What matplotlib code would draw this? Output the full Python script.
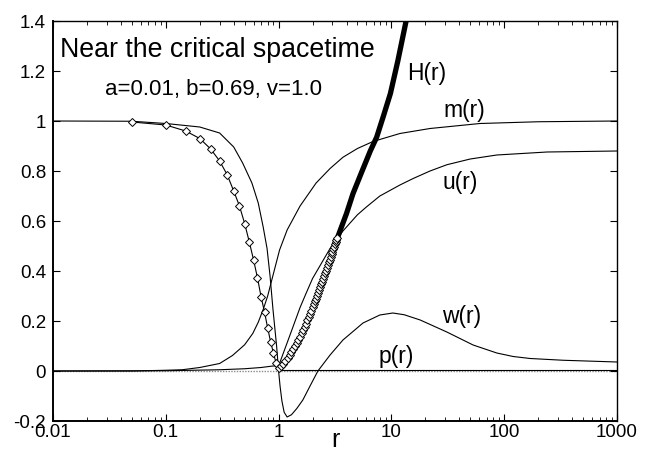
import matplotlib
matplotlib.use('Agg')
import matplotlib.pyplot as plt

plt.rcParams['font.family'] = ['Liberation Sans', 'DejaVu Sans']

# H(r): open-diamond data points (step 0.05), then thick line
h_r_left = [0.05, 0.10, 0.15, 0.20, 0.25, 0.30, 0.35, 0.40, 0.45, 0.50,
            0.55, 0.60, 0.65, 0.70, 0.75, 0.80, 0.85, 0.90, 0.95, 1.00]
h_left = [0.996, 0.984, 0.960, 0.930, 0.888, 0.840, 0.785, 0.720, 0.660, 0.590,
          0.516, 0.444, 0.372, 0.296, 0.236, 0.172, 0.116, 0.072, 0.032, 0.012]
h_r_right = [1.05, 1.10, 1.15, 1.20, 1.25, 1.30, 1.35, 1.40, 1.45, 1.50,
             1.55, 1.60, 1.65, 1.70, 1.75, 1.80, 1.85, 1.90, 1.95, 2.00,
             2.05, 2.10, 2.15, 2.20, 2.25, 2.30, 2.35, 2.40, 2.45, 2.50,
             2.55, 2.60, 2.65, 2.70, 2.75, 2.80, 2.85, 2.90, 2.95, 3.00,
             3.05, 3.10, 3.15, 3.20, 3.25, 3.30]
h_right = [0.020, 0.030, 0.041, 0.052, 0.063, 0.075, 0.087, 0.099, 0.112, 0.125,
           0.138, 0.151, 0.164, 0.177, 0.190, 0.203, 0.216, 0.229, 0.242, 0.255,
           0.267, 0.279, 0.290, 0.302, 0.313, 0.325, 0.336, 0.347, 0.358, 0.369,
           0.380, 0.391, 0.402, 0.413, 0.424, 0.435, 0.446, 0.456, 0.467, 0.477,
           0.487, 0.497, 0.507, 0.516, 0.525, 0.534]
h_r_thick = [3.0, 3.5, 4.0, 4.57, 5.5, 6.5, 7.4, 8.5, 9.8, 11.4, 13.5, 14.3]
h_thick = [0.477, 0.56, 0.63, 0.71, 0.80, 0.88, 0.935, 1.02, 1.11, 1.24, 1.40, 1.46]

w_r = [0.01, 0.05, 0.1, 0.2, 0.3, 0.4, 0.48, 0.58, 0.66, 0.73, 0.79, 0.84, 0.89,
       0.96, 1.0, 1.03, 1.07, 1.12, 1.19, 1.3, 1.45, 1.64, 1.9, 2.23, 2.86, 3.72,
       5.6, 7.9, 10.3, 13, 18, 31, 53, 86, 120, 170, 332, 1000]
w_vals = [1.0, 0.999, 0.99, 0.976, 0.952, 0.896, 0.832, 0.752, 0.672, 0.576, 0.49,
          0.380, 0.250, 0.100, 0.0, -0.06, -0.12, -0.165, -0.184, -0.175, -0.15,
          -0.116, -0.06, 0.0, 0.064, 0.124, 0.192, 0.224, 0.232, 0.225, 0.204,
          0.156, 0.104, 0.072, 0.058, 0.05, 0.043, 0.036]

m_r = [0.01, 0.05, 0.1, 0.14, 0.2, 0.3, 0.39, 0.5, 0.59, 0.66, 0.73, 0.8, 0.87,
       1.02, 1.19, 1.55, 2.15, 2.86, 3.72, 5.0, 6.87, 11.9, 22, 61, 200, 1000]
m_vals = [0.0, 0.0, 0.003, 0.005, 0.014, 0.03, 0.062, 0.105, 0.15, 0.195, 0.246,
          0.30, 0.364, 0.484, 0.564, 0.66, 0.752, 0.81, 0.855, 0.89, 0.918,
          0.95, 0.97, 0.99, 0.997, 1.0]

u_r = [0.01, 0.1, 0.3, 0.5, 0.7, 0.89, 1.0, 1.1, 1.2, 1.35, 1.55, 1.75, 2.0,
       2.5, 2.86, 3.72, 5.0, 6.0, 7.9, 11.9, 15.6, 22, 31, 50, 86, 240, 1000]
u_vals = [0.0, 0.001, 0.005, 0.009, 0.014, 0.02, 0.02, 0.071, 0.117, 0.18, 0.254,
          0.31, 0.37, 0.445, 0.49, 0.56, 0.625, 0.656, 0.70, 0.744, 0.77, 0.80,
          0.825, 0.848, 0.864, 0.876, 0.88]

p_r = [1.0, 10, 100, 1000]
p_vals = [0.006, 0.006, 0.006, 0.006]

fig = plt.figure(figsize=(6.59, 4.53), dpi=100)
ax = fig.add_axes([53 / 659, 32 / 453, 564 / 659, 400 / 453])

ax.axhline(0, color='0.55', linestyle=(0, (1, 1)), linewidth=1.0, zorder=1)

ax.plot(w_r, w_vals, color='black', linewidth=0.8)
ax.plot(m_r, m_vals, color='black', linewidth=0.8)
ax.plot(u_r, u_vals, color='black', linewidth=0.8)
ax.plot(p_r, p_vals, color='black', linewidth=0.8)
ax.plot(h_r_thick, h_thick, color='black', linewidth=3.8, solid_capstyle='butt')
ax.plot(h_r_left + h_r_right, h_left + h_right, color='black', linewidth=0.8,
        marker='D', markersize=3.6, markerfacecolor='white',
        markeredgecolor='black', markeredgewidth=0.7)

ax.set_xscale('log')
ax.set_xlim(0.01, 1000)
ax.set_ylim(-0.2, 1.4)
ax.set_xticks([0.01, 0.1, 1, 10, 100, 1000])
ax.set_xticklabels(['0.01', '0.1', '1', '10', '100', '1000'])
ax.set_yticks([-0.2, 0, 0.2, 0.4, 0.6, 0.8, 1.0, 1.2, 1.4])
ax.set_yticklabels(['-0.2', '0', '0.2', '0.4', '0.6', '0.8', '1', '1.2', '1.4'])
ax.tick_params(which='both', direction='in', top=True, right=True,
               labelsize=13.5, color='black')
ax.tick_params(which='major', length=5, width=0.8)
ax.tick_params(which='minor', length=3, width=0.6)
ax.tick_params(axis='x', pad=2)
ax.tick_params(axis='y', pad=5)
for s in ax.spines.values():
    s.set_linewidth(1.0)
ax.spines['left'].set_linewidth(1.4)
ax.spines['bottom'].set_linewidth(1.4)

ax.set_xlabel('r', fontsize=18, labelpad=-9)

ax.text(0.0115, 1.285, 'Near the critical spacetime', fontsize=19.3, va='center')
ax.text(0.029, 1.124, 'a=0.01, b=0.69, v=1.0', fontsize=16, va='center')
ax.text(13.7, 1.19, 'H(r)', fontsize=16.5, va='center')
ax.text(28.7, 1.044, 'm(r)', fontsize=16.5, va='center')
ax.text(28.1, 0.752, 'u(r)', fontsize=16.5, va='center')
ax.text(28.0, 0.216, 'w(r)', fontsize=16.5, va='center')
ax.text(7.76, 0.058, 'p(r)', fontsize=16.5, va='center')

plt.savefig('out.png', dpi=100)
